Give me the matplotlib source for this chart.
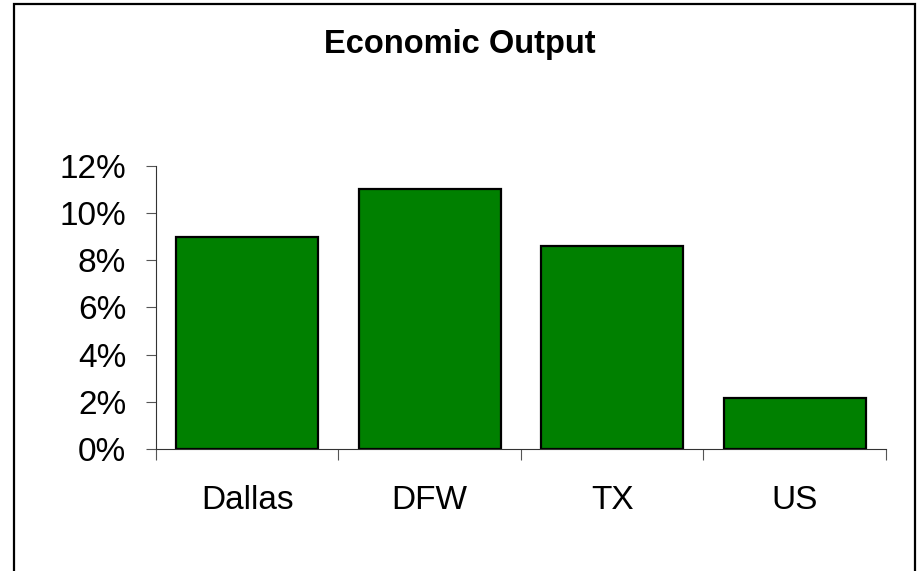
import matplotlib.pyplot as plt
import matplotlib.patches as patches
from matplotlib.ticker import FuncFormatter, FixedLocator

plt.rcParams['font.family'] = ['Liberation Sans', 'DejaVu Sans']

# data
regions = ['Dallas', 'DFW', 'TX', 'US']
output_growth = [0.090, 0.110, 0.086, 0.0215]
y_ticks = [0, 0.02, 0.04, 0.06, 0.08, 0.10, 0.12]

fig = plt.figure(figsize=(9.2, 5.71), dpi=100)
ax = fig.add_axes([156 / 920, 1 - 449 / 571, (886 - 156) / 920, (449 - 165.7) / 571])

x = range(len(regions))
ax.bar(x, output_growth, width=0.776, color='#008000', edgecolor='black', linewidth=1.6)

ax.set_xlim(-0.5, len(regions) - 0.5)
ax.set_ylim(0, 0.12)
ax.set_yticks(y_ticks)
ax.yaxis.set_major_formatter(FuncFormatter(lambda v, p: f'{v * 100:.0f}%'))

# category labels at centres, tick marks at the boundaries
ax.set_xticks(list(x))
ax.set_xticklabels(regions)
ax.xaxis.set_minor_locator(FixedLocator([i - 0.5 for i in range(len(regions) + 1)]))
ax.tick_params(axis='x', which='major', length=0, pad=26, labelsize=24)
ax.tick_params(axis='x', which='minor', length=8, width=0.8, color='#555555')
ax.tick_params(axis='y', length=7.5, width=0.8, color='#555555', pad=14, labelsize=24)

for side in ['top', 'right']:
    ax.spines[side].set_visible(False)
for side in ['left', 'bottom']:
    ax.spines[side].set_linewidth(0.8)
    ax.spines[side].set_color('#333333')

fig.text(0.5, 1 - 44 / 571, 'Economic Output', ha='center', va='center',
         fontsize=23.5, fontweight='bold')

# chart frame (bottom edge falls outside the picture)
frame = patches.Rectangle((14 / 920, -0.1), (915 - 14) / 920, 1.1 - 4 / 571,
                          transform=fig.transFigure, fill=False,
                          edgecolor='black', linewidth=1.6)
fig.patches.append(frame)

fig.savefig('out.png', dpi=100)
